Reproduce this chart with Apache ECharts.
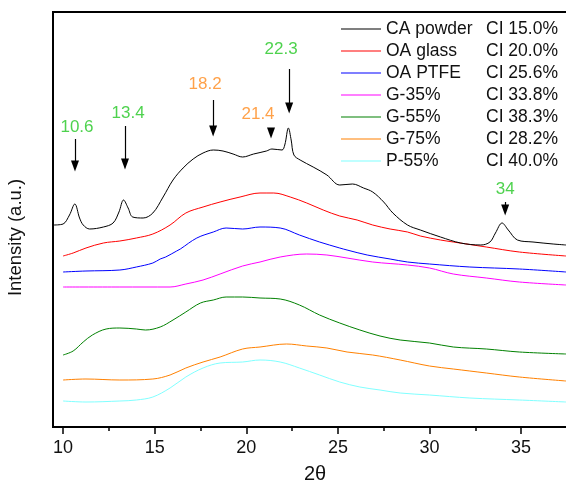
<!DOCTYPE html>
<html>
<head>
<meta charset="utf-8">
<script src="https://cdn.jsdelivr.net/npm/echarts@6/dist/echarts.min.js"></script>
<style>html,body{margin:0;padding:0;background:#fff}#c{width:566px;height:480px}</style>
</head>
<body>
<div id="c"></div>
<script>
// ---- data (intensity in arbitrary units, curves offset as in the figure) ----
const seriesNames = ['CA powder','OA glass','OA PTFE','G-35%','G-55%','G-75%','P-55%'];
const crystallinity = ['CI 15.0%','CI 20.0%','CI 25.6%','CI 33.8%','CI 38.3%','CI 28.2%','CI 40.0%'];
const caPowder = [[9.5,202],[10.0,203],[10.35,212],[10.64,223],[10.9,209],[11.1,202],[11.45,198],[12.2,200],[12.73,204],[13.05,215],[13.3,227],[13.55,219],[13.8,210],[14.37,209],[14.9,214],[15.46,230],[16.0,247],[16.55,259],[17.1,268],[17.64,274],[18.2,277],[18.73,276],[19.28,273],[19.8,270],[20.4,273],[21.1,276],[21.4,278],[21.95,277],[22.1,282],[22.3,299],[22.45,287],[22.6,272],[22.94,267],[23.65,260],[24.4,252],[25.1,242],[25.8,243],[26.4,239],[26.9,235],[27.5,225],[28.0,214],[28.8,202],[29.5,197],[30.6,190],[31.7,184],[32.8,182],[33.3,185],[33.6,194],[33.96,204],[34.3,197],[34.8,187],[35.65,185],[36.75,183],[37.45,182]];
const oaGlass = [[10,171],[10.55,174],[11.25,179],[12.2,184],[13.1,186],[14.0,189],[14.9,193],[15.84,202],[16.7,214],[17.64,220],[18.57,225],[19.66,230],[20.75,234],[21.5,234],[22.4,230],[23.3,224],[24.2,217],[25.1,211],[26.05,207],[26.9,202],[27.85,198],[28.8,195],[29.5,191],[30.6,187],[31.3,185],[33.1,180],[34.9,175],[37.45,171]];
const oaPtfe = [[10,155],[11.25,156],[13.1,157],[14.0,160],[14.9,164],[15.3,168],[15.6,170],[16.2,176],[16.4,178],[17.3,189],[18.2,195],[18.9,199],[19.8,198],[20.75,200],[21.85,199],[22.9,192],[24.0,185],[25.1,179],[25.5,177],[26.6,172],[27.85,168],[28.8,165],[30.0,163],[32.2,160],[34.9,158],[37.45,155]];
const g35 = [[10,140],[13.1,140],[15.84,140],[16.7,143],[17.64,147],[18.57,153],[19.8,161],[20.75,165],[21.85,170],[23.3,173],[24.4,172],[25.5,169],[26.9,165],[28.8,162],[30.0,159],[31.3,153],[33.1,149],[34.9,145],[37.45,142]];
const g55 = [[10,72],[10.55,76],[11.1,85],[11.6,92],[12.35,98],[13.1,99],[14.0,98],[14.5,97],[15.3,100],[16.0,107],[16.7,115],[17.5,124],[18.2,127],[18.9,130],[19.8,130],[20.75,129],[21.85,128],[22.9,122],[24.0,112],[25.1,104],[26.2,97],[27.3,91],[28.4,87],[30.0,84],[31.3,80],[33.1,78],[34.9,75],[37.45,73]];
const g75 = [[10,47],[11.25,48],[13.1,47],[14.9,48],[15.84,52],[16.7,59],[17.64,65],[18.57,70],[19.8,78],[20.75,80],[22.2,83],[23.3,81],[24.4,79],[25.5,75],[26.9,72],[28.4,67],[30.0,61],[31.3,58],[33.1,54],[34.9,50],[37.45,46]];
const p55 = [[10,26],[11.25,25],[13.1,26],[14.0,27],[14.9,30],[15.84,39],[16.7,50],[17.64,59],[18.57,64],[19.8,65],[20.75,67],[21.85,65],[22.9,59],[24.0,52],[25.1,45],[26.2,40],[27.3,37],[28.4,34],[30.0,32],[32.2,29],[34.9,27],[37.45,25]];
const xTickLabels = [10,15,20,25,30,35];
const xMinorTicks = [12.5,17.5,22.5,27.5,32.5,37.5];
// peak annotations: text, arrow x, arrow top/bottom, label anchor
const peakTexts = ['10.6','13.4','18.2','21.4','22.3','34'];
const peakKinds = ['g','g','o','o','g','g'];
const arrowX = [10.65,13.38,18.19,21.35,22.34,34.13];
const arrowTop = [288,301,327,299,358,225];
const arrowTip = [256,258,291,289,314,212];
const labelX = [10.76,13.55,17.75,20.64,21.9,34.13];
const labelY = [300,314,343,313,378,238];

// ---- chart ----
const colors = ['#000000','#ff0000','#0000ff','#ff00ff','#008000','#ff8000','#80ffff'];
const curves = [caPowder,oaGlass,oaPtfe,g35,g55,g75,p55];
const font = 'Liberation Sans, Arial, sans-serif';
const ciMap = {};
seriesNames.forEach((n,i)=>ciMap[n]=crystallinity[i]);

const series = curves.map((d,i)=>({
  name: seriesNames[i], type:'line', data:d, symbol:'none', smooth:0.35,
  lineStyle:{color:colors[i], width:1}, itemStyle:{color:colors[i]},
  silent:true, animation:false, z: 10 - i
}));
const kindColor = {g:'#22c722', o:'#ff8a1c'};
series.push({
  name:'annot', type:'scatter', symbolSize:0, silent:true, animation:false,
  data: peakTexts.map((t,i)=>({value:[labelX[i],labelY[i]], label:{formatter:t, color:kindColor[peakKinds[i]]}})),
  label:{show:true, position:'inside', fontSize:17, fontFamily:font},
  markLine:{
    silent:true, animation:false, symbol:['none','triangle'], symbolSize:[8,11],
    lineStyle:{color:'#000', width:1.2, type:'solid'}, label:{show:false},
    emphasis:{disabled:true},
    data: arrowX.map((x,i)=>[{coord:[x,arrowTop[i]]},{coord:[x,arrowTip[i]+5]}])
  }
});

const chart = echarts.init(document.getElementById('c'), null, {renderer:'canvas'});
chart.setOption({
  animation:false,
  backgroundColor:'#fff',
  textStyle:{fontFamily:font},
  grid:{left:53, right:-2, top:12, bottom:53, outerBoundsMode:'none', containLabel:false, show:true, borderColor:'#000', borderWidth:2, backgroundColor:'transparent'},
  legend:{
    data:seriesNames, orient:'vertical', left:336, top:15, itemWidth:40, itemHeight:1.2, itemGap:4, icon:'rect',
    textStyle:{fontFamily:font, fontSize:17.5, color:'#111', rich:{n:{width:100, fontSize:17.5, fontFamily:font, color:'#111'}, c:{fontSize:17.5, fontFamily:font, color:'#111'}}},
    formatter: n => '{n|'+n+'}{c|'+ciMap[n]+'}',
    selectedMode:false
  },
  xAxis:[{
    type:'value', min:9.45, max:37.56, position:'bottom',
    name:'2θ', nameLocation:'middle', nameGap:37,
    nameTextStyle:{fontSize:20, color:'#111', fontFamily:font, padding:[0,0,0,9]},
    axisLine:{show:true, lineStyle:{color:'#000', width:2}},
    axisTick:{show:true, customValues:xTickLabels, length:7, lineStyle:{color:'#000', width:1.5}},
    axisLabel:{show:true, customValues:xTickLabels, fontSize:18, color:'#111', margin:12, fontFamily:font},
    splitLine:{show:false}
  },{
    type:'value', min:9.45, max:37.56, position:'bottom',
    axisLine:{show:false},
    axisTick:{show:true, customValues:xMinorTicks, length:4, lineStyle:{color:'#000', width:1.5}},
    axisLabel:{show:false}, splitLine:{show:false}
  }],
  yAxis:{
    type:'value', min:0, max:415,
    name:'Intensity (a.u.)', nameLocation:'middle', nameGap:28,
    nameTextStyle:{fontSize:18.5, color:'#111', fontFamily:font, padding:[0,36,0,0]},
    axisLine:{show:true, lineStyle:{color:'#000', width:2}},
    axisTick:{show:false}, axisLabel:{show:false}, splitLine:{show:false}
  },
  series: series
});
</script>
</body>
</html>
